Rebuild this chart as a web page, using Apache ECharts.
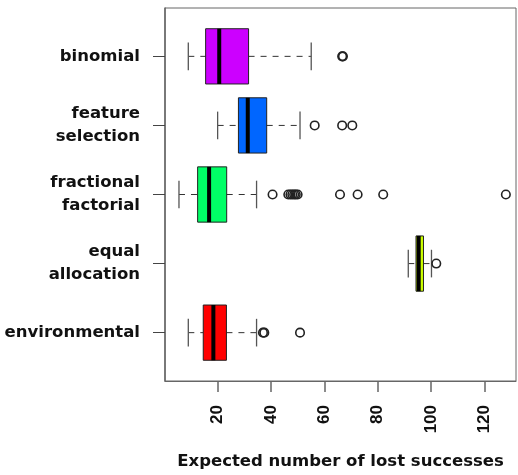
<!DOCTYPE html>
<html>
<head>
<meta charset="utf-8">
<script src="https://cdn.jsdelivr.net/npm/echarts@6/dist/echarts.min.js"></script>
<style>
html,body{margin:0;padding:0;background:#fff;}
#chart{width:518px;height:475px;}
</style>
</head>
<body>
<div id="chart"></div>
<script>
// bottom to top, positions 1..5
const categories = ['environmental', 'equal allocation', 'fractional factorial', 'feature selection', 'binomial'];
const categoryLabels = ['environmental', 'equal\nallocation', 'fractional\nfactorial', 'feature\nselection', 'binomial'];
const lowerWhisker = [9.0, 91.5, 5.5, 20.0, 9.0];
const q1 = [14.6, 94.4, 12.5, 27.8, 15.5];
const median = [18.4, 95.4, 16.8, 31.3, 20.6];
const q3 = [23.3, 97.2, 23.4, 38.4, 31.6];
const upperWhisker = [34.6, 100.2, 34.6, 50.9, 55.1];
const outliers = [
  [37.0, 37.5, 50.9],
  [102.0],
  [40.6, 46.5, 47.3, 48.0, 48.7, 49.3, 50.0, 65.9, 72.5, 82.1, 128.1],
  [56.4, 66.7, 70.5],
  [66.7, 67.0]
];
const boxColors = ['#FF0000', '#CCFF00', '#00FF66', '#0066FF', '#CC00FF'];
const xTicks = [20, 40, 60, 80, 100, 120];
const xTitle = 'Expected number of lost successes';

const boxData = categories.map((c, i) => [i + 1, lowerWhisker[i], q1[i], median[i], q3[i], upperWhisker[i]]);
const outlierData = [];
outliers.forEach((arr, i) => arr.forEach(v => outlierData.push([v, i + 1])));

const chart = echarts.init(document.getElementById('chart'));
chart.setOption({
  animation: false,
  backgroundColor: '#fff',
  grid: {
    left: 165, right: 2, top: 8, bottom: 93,
    show: true, borderColor: '#666', borderWidth: 1, backgroundColor: 'transparent'
  },
  xAxis: {
    type: 'value', min: 0.26, max: 131.9,
    name: xTitle, nameLocation: 'middle', nameGap: 72,
    nameTextStyle: { fontFamily: 'DejaVu Sans', fontWeight: 'bold', fontSize: 16.5, color: '#111' },
    axisLine: { show: true, lineStyle: { color: '#666', width: 1 } },
    axisTick: { show: true, length: 11, customValues: xTicks, lineStyle: { color: '#666', width: 1.5 } },
    axisLabel: {
      customValues: xTicks, rotate: 90, margin: 24,
      fontFamily: 'Liberation Sans', fontWeight: 'bold', fontSize: 17, color: '#111'
    },
    splitLine: { show: false }
  },
  yAxis: {
    type: 'value', min: 0.3, max: 5.7,
    axisLine: { show: true, lineStyle: { color: '#666', width: 1.5 } },
    axisTick: { show: true, length: 12, customValues: [1, 2, 3, 4, 5], lineStyle: { color: '#444', width: 1 } },
    axisLabel: {
      customValues: [1, 2, 3, 4, 5], margin: 25,
      fontFamily: 'DejaVu Sans', fontWeight: 'bold', fontSize: 16.5, color: '#111', lineHeight: 23,
      formatter: v => categoryLabels[Math.round(v) - 1]
    },
    splitLine: { show: false }
  },
  series: [
    {
      type: 'custom',
      data: boxData,
      encode: { x: [1, 2, 3, 4, 5], y: 0 },
      renderItem: function (params, api) {
        const idx = params.dataIndex;
        const y = api.value(0);
        const lo = api.coord([api.value(1), y]);
        const b1 = api.coord([api.value(2), y]);
        const md = api.coord([api.value(3), y]);
        const b3 = api.coord([api.value(4), y]);
        const hi = api.coord([api.value(5), y]);
        const halfBox = api.size([0, 0.4])[1];
        const halfStaple = api.size([0, 0.2])[1];
        const cy = lo[1];
        const dash = { stroke: '#333', lineWidth: 1, lineDash: [6, 6] };
        const solid = { stroke: '#555', lineWidth: 1.3 };
        return {
          type: 'group',
          children: [
            { type: 'line', shape: { x1: lo[0], y1: cy, x2: b1[0], y2: cy }, style: dash },
            { type: 'line', shape: { x1: b3[0], y1: cy, x2: hi[0], y2: cy }, style: dash },
            { type: 'line', shape: { x1: lo[0], y1: cy - halfStaple, x2: lo[0], y2: cy + halfStaple }, style: solid },
            { type: 'line', shape: { x1: hi[0], y1: cy - halfStaple, x2: hi[0], y2: cy + halfStaple }, style: solid },
            { type: 'rect', shape: { x: b1[0], y: cy - halfBox, width: b3[0] - b1[0], height: 2 * halfBox },
              style: { fill: boxColors[idx], stroke: '#222', lineWidth: 1 } },
            { type: 'line', shape: { x1: md[0], y1: cy - halfBox, x2: md[0], y2: cy + halfBox },
              style: { stroke: '#000', lineWidth: 4 } }
          ]
        };
      },
      z: 2
    },
    {
      type: 'scatter',
      data: outlierData,
      symbol: 'circle',
      symbolSize: 8.5,
      itemStyle: { color: 'rgba(255,255,255,0)', borderColor: '#222', borderWidth: 1.6, opacity: 1 },
      z: 3
    }
  ]
});
</script>
</body>
</html>
